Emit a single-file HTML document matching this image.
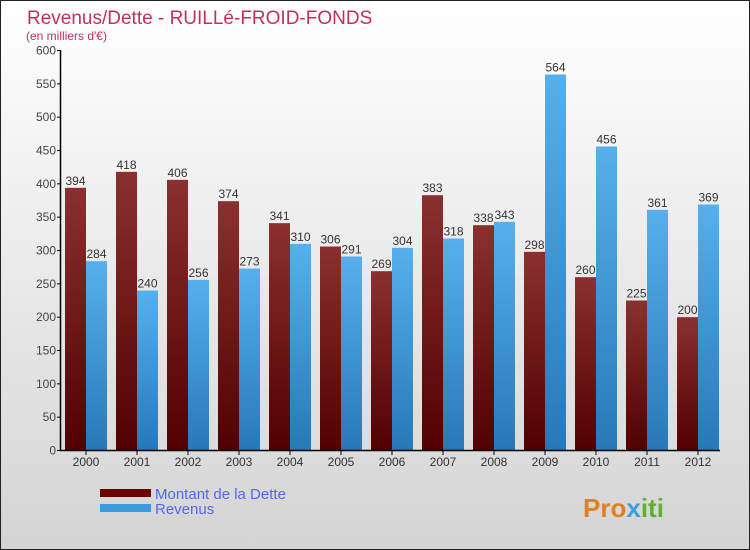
<!DOCTYPE html>
<html><head><meta charset="utf-8"><style>
body{margin:0}
#c{width:750px;height:550px;position:relative;overflow:hidden;font-family:"Liberation Sans",sans-serif}
</style></head><body>
<div id="c">
<svg id="s" width="750" height="550" xmlns="http://www.w3.org/2000/svg">
<defs>
<linearGradient id="bg" x1="0" y1="0" x2="0" y2="1"><stop offset="0" stop-color="#ffffff"/><stop offset="1" stop-color="#d4d4d4"/></linearGradient>
<linearGradient id="gd" x1="0" y1="0" x2="0" y2="1"><stop offset="0" stop-color="#8a3030"/><stop offset="1" stop-color="#520000"/></linearGradient>
<linearGradient id="gr" x1="0" y1="0" x2="0" y2="1"><stop offset="0" stop-color="#56b0ec"/><stop offset="1" stop-color="#2878b8"/></linearGradient>
</defs>
<rect x="0.5" y="0.5" width="749" height="549" fill="url(#bg)" stroke="#222"/>
<text x="27" y="24" font-size="19" fill="#c0305e">Revenus/Dette - RUILLé-FROID-FONDS</text>
<text x="26" y="40" font-size="12" fill="#c0305e">(en milliers d'€)</text>
<g id="plot"></g>
<rect x="100" y="489" width="51" height="8" fill="#6a0000"/>
<rect x="100" y="504" width="51" height="8" fill="#3a9ade"/>
<text x="155" y="499" font-size="15" fill="#5566ee">Montant de la Dette</text>
<text x="155" y="514" font-size="15" fill="#5566ee">Revenus</text>
<text x="583" y="517" font-size="26" font-weight="bold" fill="#e08020">Pro<tspan fill="#3aa0e0">x</tspan><tspan fill="#60b030">iti</tspan></text>
</svg></div>
<script>
const years=["2000","2001","2002","2003","2004","2005","2006","2007","2008","2009","2010","2011","2012"];
const dette=[394,418,406,374,341,306,269,383,338,298,260,225,200];
const revenus=[284,240,256,273,310,291,304,318,343,564,456,361,369];
const yTicks=[0,50,100,150,200,250,300,350,400,450,500,550,600];
const NS="http://www.w3.org/2000/svg";
const g=document.getElementById('plot');
const y=v=>450.5-v*400/600;
const gx=i=>65+i*51;
function mk(t,a,txt){const e=document.createElementNS(NS,t);for(const k in a)e.setAttribute(k,a[k]);if(txt!==undefined)e.textContent=txt;g.appendChild(e);return e;}
yTicks.forEach(v=>{
 const l=mk('line',{x1:57,x2:61,y1:y(v),y2:y(v),stroke:'#000'});
 
 
 const t=mk('text',{x:56,y:y(v)+4,'font-size':12,'text-anchor':'end',fill:'#444'},String(v));
 
 
});
years.forEach((yr,i)=>{
 const x=gx(i);
 const b1=mk('rect',{x:x,y:y(dette[i]),width:21,height:450.5-y(dette[i]),fill:'url(#gd)'});
 
 
 const b2=mk('rect',{x:x+21,y:y(revenus[i]),width:21,height:450.5-y(revenus[i]),fill:'url(#gr)'});
 
 
 const l1=mk('text',{x:x+10.5,y:y(dette[i])-3,'font-size':12,'text-anchor':'middle',fill:'#333'},String(dette[i]));
 
 
 const l2=mk('text',{x:x+31.5,y:y(revenus[i])-3,'font-size':12,'text-anchor':'middle',fill:'#333'},String(revenus[i]));
 
 
 const tk=mk('line',{x1:x+21,x2:x+21,y1:450,y2:455,stroke:'#000'});
 
 
 const xt=mk('text',{x:x+21,y:466,'font-size':12,'text-anchor':'middle',fill:'#333'},yr);
 
 
});
const ya=mk('line',{x1:60.5,x2:60.5,y1:50,y2:451,stroke:'#000','stroke-width':1.5});


const xa=mk('line',{x1:60,x2:720,y1:450.5,y2:450.5,stroke:'#000','stroke-width':1.5});


</script>
</body></html>
